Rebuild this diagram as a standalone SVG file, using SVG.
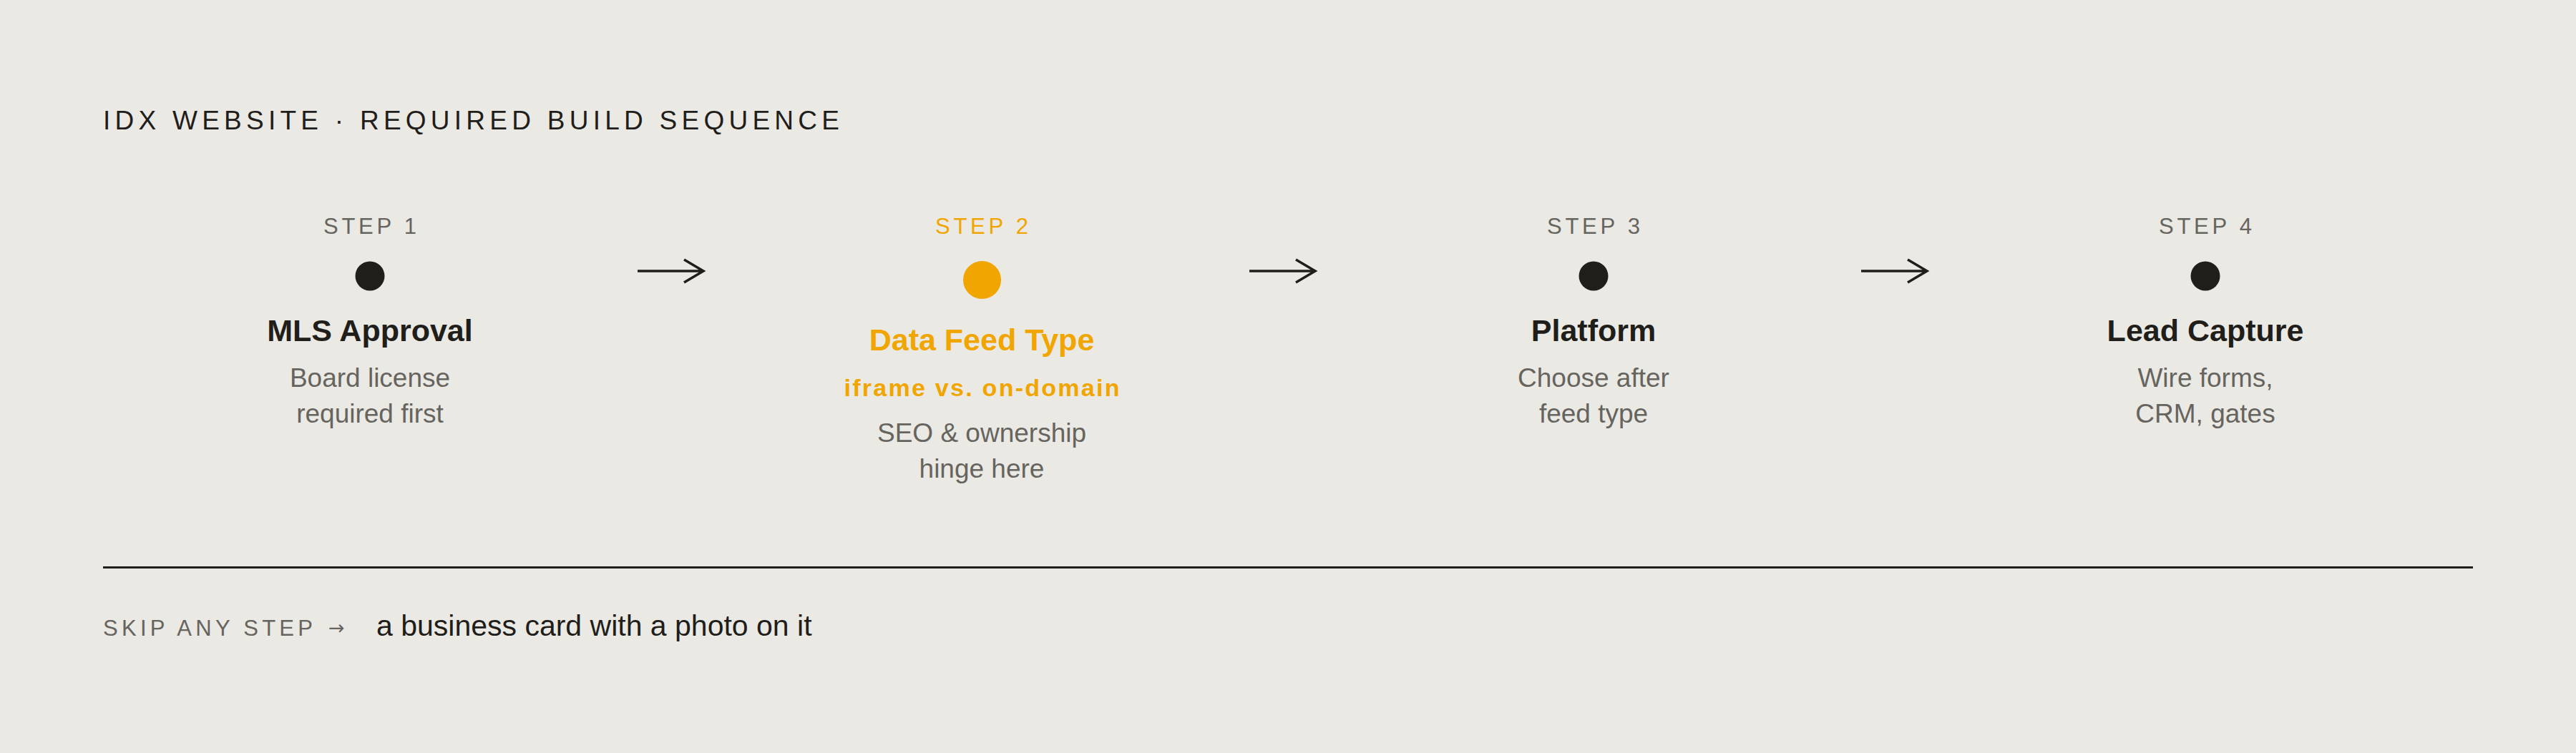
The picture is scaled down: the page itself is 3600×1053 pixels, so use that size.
<svg xmlns="http://www.w3.org/2000/svg" width="3600" height="1053" viewBox="0 0 3600 1053">
<style>
  .t { font-family: "Liberation Sans", Arial, sans-serif; }
  .title { font-size: 37px; fill: #1f1e1b; }
  .lbl { font-size: 31px; fill: #66645f; text-anchor: middle; }
  .lbl2 { font-size: 31px; fill: #f0a500; text-anchor: middle; }
  .name { font-size: 43px; font-weight: bold; fill: #1f1e1b; text-anchor: middle; }
  .name2 { font-size: 43px; font-weight: bold; fill: #f0a500; text-anchor: middle; }
  .sub2 { font-size: 34px; font-weight: bold; fill: #f0a500; text-anchor: middle; }
  .desc { font-size: 37px; fill: #66645f; text-anchor: middle; }
  .dot { fill: #1f1e1b; }
  .dot2 { fill: #f0a500; }
  .arrow { fill: none; stroke: #1f1e1b; stroke-width: 3.5; }
  .skip { font-size: 31px; fill: #66645f; }
  .note { font-size: 41px; fill: #1f1e1b; }
</style>
<rect x="0" y="0" width="3600" height="1053" fill="#ebe9e4"/>
<text class="t title" x="144" y="181" textLength="1029" lengthAdjust="spacing">IDX WEBSITE · REQUIRED BUILD SEQUENCE</text>

<g id="step1">
  <text class="t lbl" x="517" y="327" textLength="130" lengthAdjust="spacing">STEP 1</text>
  <circle class="dot" cx="517" cy="386" r="20.5"/>
  <text class="t name" x="517" y="477">MLS Approval</text>
  <text class="t desc" x="517" y="541">Board license</text>
  <text class="t desc" x="517" y="591">required first</text>
</g>

<g id="step2">
  <text class="t lbl2" x="1372" y="327" textLength="130" lengthAdjust="spacing">STEP 2</text>
  <circle class="dot2" cx="1372.5" cy="391.5" r="26.5"/>
  <text class="t name2" x="1372" y="490">Data Feed Type</text>
  <text class="t sub2" x="1372" y="554" textLength="385" lengthAdjust="spacing">iframe vs. on-domain</text>
  <text class="t desc" x="1372" y="618">SEO &amp; ownership</text>
  <text class="t desc" x="1372" y="668">hinge here</text>
</g>

<g id="step3">
  <text class="t lbl" x="2227" y="327" textLength="130" lengthAdjust="spacing">STEP 3</text>
  <circle class="dot" cx="2227" cy="386" r="20.5"/>
  <text class="t name" x="2227" y="477">Platform</text>
  <text class="t desc" x="2227" y="541">Choose after</text>
  <text class="t desc" x="2227" y="591">feed type</text>
</g>

<g id="step4">
  <text class="t lbl" x="3082" y="327" textLength="130" lengthAdjust="spacing">STEP 4</text>
  <circle class="dot" cx="3082" cy="386" r="20.5"/>
  <text class="t name" x="3082" y="477">Lead Capture</text>
  <text class="t desc" x="3082" y="541">Wire forms,</text>
  <text class="t desc" x="3082" y="591">CRM, gates</text>
</g>

<g id="connectors">
  <path class="arrow" d="M891 379 H983 M956 363 L983 379 L956 395"/>
  <path class="arrow" d="M1746 379 H1838 M1811 363 L1838 379 L1811 395"/>
  <path class="arrow" d="M2601 379 H2693 M2666 363 L2693 379 L2666 395"/>
</g>

<line x1="144" y1="793.5" x2="3456" y2="793.5" stroke="#1f1e1b" stroke-width="3"/>

<g id="footer">
  <text class="t skip" x="144" y="889" textLength="293" lengthAdjust="spacing">SKIP ANY STEP</text>
  <text class="skip" x="459" y="887" style="font-family: 'DejaVu Sans', sans-serif; font-size: 27px;">→</text>
  <text class="t note" x="526" y="889">a business card with a photo on it</text>
</g>
</svg>
